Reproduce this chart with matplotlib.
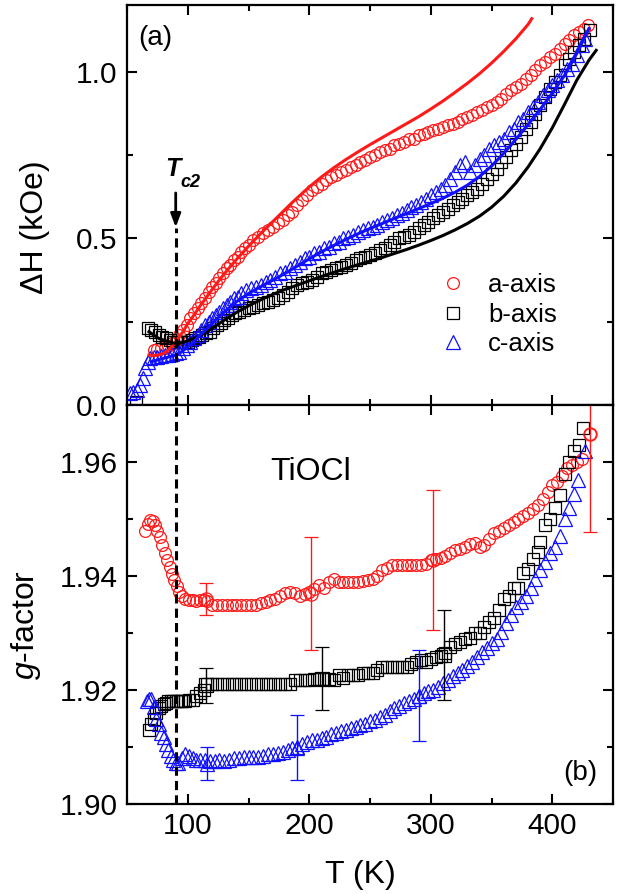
import numpy as np
import matplotlib
matplotlib.use('Agg')
import matplotlib.pyplot as plt
from matplotlib.ticker import MultipleLocator

plt.rcParams['font.family'] = ['Liberation Sans', 'DejaVu Sans']
plt.rcParams['mathtext.fontset'] = 'custom'
plt.rcParams['mathtext.rm'] = 'Liberation Sans'
plt.rcParams['mathtext.it'] = 'Liberation Sans:italic'

RED, BLK, BLU = '#ff1a1a', '#000000', '#1010ff'

# ---- (a) linewidth, symbols ----
Ta = [72, 75, 78, 81, 84, 87, 90, 93, 96, 99, 102, 105, 108, 111, 114, 117, 120, 123, 126, 129,
      132, 135, 138, 141, 144, 147, 150, 154, 158, 162, 166, 170, 174, 178, 182, 186, 190, 194, 198, 202,
      206, 210, 214, 218, 222, 226, 230, 234, 238, 242, 246, 250, 254, 258, 262, 266, 270, 274, 278, 282,
      286, 290, 294, 298, 302, 306, 310, 314, 318, 322, 326, 330, 334, 338, 342, 346, 350, 354, 358, 362,
      366, 370, 374, 378, 382, 386, 390, 394, 398, 402, 406, 410, 414, 418, 422, 426, 429]
dHa = [0.165, 0.168, 0.170, 0.172, 0.178, 0.185, 0.195, 0.21, 0.225, 0.24, 0.26, 0.275, 0.29, 0.305, 0.32, 0.34, 0.355, 0.365, 0.38, 0.395,
       0.41, 0.42, 0.435, 0.445, 0.46, 0.47, 0.48, 0.495, 0.505, 0.515, 0.525, 0.535, 0.545, 0.555, 0.57, 0.58, 0.60, 0.615, 0.63, 0.645,
       0.655, 0.665, 0.675, 0.685, 0.69, 0.70, 0.705, 0.715, 0.72, 0.73, 0.735, 0.745, 0.75, 0.76, 0.765, 0.77, 0.78, 0.785, 0.79, 0.80,
       0.80, 0.81, 0.815, 0.82, 0.825, 0.83, 0.835, 0.84, 0.845, 0.85, 0.86, 0.865, 0.87, 0.88, 0.885, 0.895, 0.90, 0.91, 0.92, 0.935,
       0.945, 0.955, 0.965, 0.98, 0.99, 1.005, 1.02, 1.03, 1.045, 1.055, 1.07, 1.085, 1.095, 1.11, 1.12, 1.13, 1.14]

Tb = [57, 67, 70, 73, 76, 79, 82, 85, 88, 91, 94, 97, 100, 103, 106, 109, 112, 115, 118, 121,
      124, 127, 130, 133, 136, 139, 142, 146, 150, 154, 158, 162, 166, 170, 174, 178, 182, 186, 190, 194,
      198, 202, 206, 210, 214, 218, 222, 226, 230, 234, 238, 242, 246, 250, 254, 258, 262, 266, 270, 274,
      278, 282, 286, 290, 294, 298, 302, 306, 310, 314, 318, 322, 326, 330, 334, 338, 342, 346, 350, 354,
      358, 362, 366, 370, 374, 378, 382, 386, 390, 394, 398, 402, 406, 410, 414, 418, 422, 426, 431]
dHb = [0.008, 0.23, 0.225, 0.22, 0.21, 0.205, 0.20, 0.195, 0.19, 0.19, 0.19, 0.19, 0.19, 0.195, 0.20, 0.205, 0.21, 0.215, 0.22, 0.23,
       0.24, 0.245, 0.255, 0.26, 0.27, 0.275, 0.28, 0.285, 0.29, 0.295, 0.30, 0.305, 0.31, 0.315, 0.32, 0.33, 0.34, 0.35, 0.36, 0.365,
       0.37, 0.375, 0.385, 0.395, 0.40, 0.405, 0.41, 0.415, 0.42, 0.425, 0.435, 0.44, 0.445, 0.45, 0.455, 0.465, 0.47, 0.48, 0.49, 0.50,
       0.505, 0.51, 0.52, 0.53, 0.54, 0.55, 0.56, 0.57, 0.58, 0.59, 0.60, 0.61, 0.62, 0.63, 0.64, 0.65, 0.665, 0.68, 0.695, 0.71,
       0.73, 0.745, 0.765, 0.785, 0.805, 0.83, 0.85, 0.875, 0.90, 0.925, 0.95, 0.97, 0.99, 1.02, 1.04, 1.06, 1.08, 1.10, 1.125]

Tc = [52, 55, 58, 61, 63, 65, 67, 69, 72, 75, 78, 81, 84, 87, 90, 93, 96, 99, 102, 105,
      108, 111, 114, 117, 120, 123, 126, 129, 132, 135, 138, 141, 144, 148, 152, 156, 160, 164, 168, 172,
      176, 180, 184, 188, 192, 196, 200, 204, 208, 212, 216, 220, 224, 228, 232, 236, 240, 244, 248, 252,
      256, 260, 264, 268, 272, 276, 280, 284, 288, 292, 296, 300, 304, 308, 312, 316, 320, 324, 328, 332,
      336, 340, 344, 348, 352, 356, 360, 364, 368, 372, 376, 380, 384, 388, 392, 396, 400, 404, 408, 412,
      416, 420, 424, 427]
dHc = [0.035, 0.04, 0.045, 0.06, 0.08, 0.11, 0.13, 0.14, 0.145, 0.145, 0.148, 0.15, 0.15, 0.152, 0.155, 0.16, 0.17, 0.18, 0.19, 0.20,
       0.21, 0.225, 0.24, 0.25, 0.26, 0.27, 0.28, 0.29, 0.30, 0.31, 0.32, 0.325, 0.335, 0.345, 0.35, 0.355, 0.36, 0.37, 0.375, 0.385,
       0.395, 0.40, 0.41, 0.42, 0.43, 0.44, 0.445, 0.455, 0.46, 0.47, 0.475, 0.485, 0.49, 0.50, 0.505, 0.51, 0.52, 0.525, 0.53, 0.535,
       0.54, 0.55, 0.555, 0.56, 0.57, 0.575, 0.585, 0.595, 0.60, 0.61, 0.62, 0.63, 0.64, 0.65, 0.66, 0.68, 0.70, 0.72, 0.73, 0.70,
       0.72, 0.74, 0.75, 0.77, 0.78, 0.79, 0.80, 0.82, 0.83, 0.85, 0.86, 0.88, 0.895, 0.91, 0.93, 0.945, 0.96, 0.975, 0.99, 1.01,
       1.025, 1.05, 1.08, 1.10]

# fit curves
Tfa = [68, 72, 76, 80, 84, 88, 92, 96, 100, 105, 110, 115, 120, 125, 130, 135, 140, 145, 150, 155,
       160, 165, 170, 175, 180, 185, 190, 200, 210, 220, 230, 240, 250, 260, 270, 280, 290, 300, 310, 320,
       330, 340, 350, 360, 370, 380, 383]
fa = [0.15, 0.148, 0.15, 0.155, 0.165, 0.18, 0.20, 0.22, 0.245, 0.27, 0.297, 0.322, 0.347, 0.371, 0.394, 0.416, 0.437, 0.457, 0.477, 0.496,
      0.515, 0.533, 0.551, 0.569, 0.587, 0.605, 0.622, 0.655, 0.685, 0.712, 0.737, 0.76, 0.782, 0.803, 0.824, 0.845, 0.866, 0.889, 0.913, 0.939,
      0.966, 0.995, 1.027, 1.062, 1.10, 1.143, 1.16]
Tfb = [68, 72, 76, 80, 84, 88, 92, 96, 100, 105, 110, 115, 120, 130, 140, 150, 160, 170, 180, 190,
       200, 210, 220, 230, 240, 250, 260, 270, 280, 290, 300, 310, 320, 330, 340, 350, 360, 370, 380, 390,
       400, 410, 420, 430, 436]
fb = [0.22, 0.21, 0.20, 0.195, 0.19, 0.186, 0.185, 0.188, 0.193, 0.20, 0.208, 0.218, 0.23, 0.255, 0.278, 0.298, 0.316, 0.332, 0.347, 0.36,
      0.373, 0.386, 0.398, 0.41, 0.421, 0.432, 0.443, 0.455, 0.467, 0.48, 0.494, 0.509, 0.526, 0.545, 0.567, 0.594, 0.627, 0.667, 0.715, 0.77,
      0.833, 0.903, 0.975, 1.035, 1.065]
Tfc = [70, 75, 80, 85, 90, 95, 100, 105, 110, 120, 130, 140, 150, 160, 170, 180, 190, 200, 210, 220,
       230, 240, 250, 260, 270, 280, 290, 300, 310, 320, 330, 340, 350, 360, 370, 380, 390, 400, 410, 420, 430]
fc = [0.13, 0.135, 0.14, 0.145, 0.15, 0.16, 0.175, 0.19, 0.21, 0.245, 0.28, 0.31, 0.335, 0.355, 0.375, 0.395, 0.417, 0.439, 0.46, 0.479,
      0.497, 0.514, 0.53, 0.545, 0.56, 0.575, 0.59, 0.605, 0.621, 0.639, 0.66, 0.686, 0.718, 0.756, 0.798, 0.842, 0.888, 0.937, 0.99, 1.055, 1.13]

# ---- (b) g-factor ----
gTa = [65, 67, 69, 71, 73, 75, 77, 79, 81, 83, 85, 87, 89, 91, 93, 95, 98, 101, 104, 107,
       110, 113, 116, 120, 124, 128, 132, 136, 140, 144, 148, 152, 156, 160, 164, 168, 172, 176, 180, 184,
       188, 192, 196, 200, 204, 208, 212, 216, 220, 224, 228, 232, 236, 240, 244, 248, 252, 256, 260, 264,
       268, 272, 276, 280, 284, 288, 292, 296, 300, 304, 308, 312, 316, 320, 324, 328, 332, 336, 340, 344,
       348, 352, 356, 360, 364, 368, 372, 376, 380, 384, 388, 392, 396, 400, 404, 408, 412, 416, 420, 424, 431]
ga = [1.9480, 1.9492, 1.9498, 1.9497, 1.9490, 1.9480, 1.9468, 1.9455, 1.9440, 1.9428, 1.9416, 1.9404, 1.9393, 1.9382, 1.9372, 1.9365, 1.9360, 1.9358, 1.9358, 1.9357,
      1.9358, 1.9358, 1.9356, 1.9350, 1.9350, 1.9350, 1.9350, 1.9350, 1.9350, 1.9350, 1.9350, 1.9350, 1.9350, 1.9352, 1.9355, 1.9358, 1.9360, 1.9365, 1.9370, 1.9372,
      1.9370, 1.9365, 1.9368, 1.9372, 1.9378, 1.9385, 1.9380, 1.9390, 1.9395, 1.9390, 1.9390, 1.9390, 1.9390, 1.9390, 1.9392, 1.9393, 1.9395, 1.9400, 1.9410, 1.9415,
      1.9420, 1.9420, 1.9420, 1.9420, 1.9420, 1.9420, 1.9420, 1.9422, 1.9428, 1.9430, 1.9432, 1.9435, 1.9440, 1.9445, 1.9448, 1.9452, 1.9456, 1.9458, 1.9452, 1.9455,
      1.9465, 1.9475, 1.9480, 1.9485, 1.9490, 1.9495, 1.9500, 1.9505, 1.9510, 1.9518, 1.9525, 1.9535, 1.9548, 1.9560, 1.9565, 1.9575, 1.9590, 1.9595, 1.9600, 1.9605, 1.9650]

gTb = [68, 70, 72, 74, 76, 78, 80, 82, 84, 86, 88, 90, 92, 94, 96, 98, 101, 104, 107, 110,
       113, 116, 120, 124, 128, 132, 136, 140, 144, 148, 152, 156, 160, 164, 168, 172, 176, 180, 184, 188,
       192, 196, 200, 204, 208, 212, 216, 220, 224, 228, 232, 236, 240, 244, 248, 252, 256, 260, 264, 268,
       272, 276, 280, 284, 288, 292, 296, 300, 304, 308, 312, 316, 320, 324, 328, 332, 336, 340, 344, 348,
       352, 356, 360, 364, 368, 372, 376, 380, 384, 388, 390, 394, 398, 402, 406, 410, 414, 418, 422, 425]
gb = [1.9130, 1.9140, 1.9150, 1.9160, 1.9168, 1.9172, 1.9175, 1.9178, 1.9180, 1.9180, 1.9180, 1.9180, 1.9180, 1.9180, 1.9180, 1.9180, 1.9182, 1.9183, 1.9190, 1.9195,
      1.9200, 1.9210, 1.9210, 1.9210, 1.9210, 1.9210, 1.9210, 1.9210, 1.9210, 1.9210, 1.9210, 1.9210, 1.9210, 1.9210, 1.9210, 1.9210, 1.9210, 1.9210, 1.9210, 1.9218,
      1.9218, 1.9218, 1.9218, 1.9220, 1.9220, 1.9220, 1.9220, 1.9218, 1.9226, 1.9222, 1.9226, 1.9226, 1.9226, 1.9230, 1.9230, 1.9230, 1.9236, 1.9240, 1.9240, 1.9240,
      1.9240, 1.9240, 1.9240, 1.9245, 1.9250, 1.9253, 1.9250, 1.9255, 1.9258, 1.9260, 1.9265, 1.9276, 1.9280, 1.9285, 1.9290, 1.9292, 1.9300, 1.9300, 1.9310, 1.9320,
      1.9326, 1.9340, 1.9360, 1.9365, 1.9379, 1.9380, 1.9405, 1.9412, 1.9430, 1.9442, 1.9460, 1.9490, 1.9500, 1.9520, 1.9542, 1.9580, 1.9600, 1.9620, 1.9630, 1.9660]

gTc = [66, 68, 70, 72, 74, 76, 78, 80, 82, 84, 86, 88, 90, 92, 95, 98, 101, 104, 107, 110,
       114, 118, 122, 126, 130, 134, 138, 142, 146, 150, 154, 158, 162, 166, 170, 174, 178, 182, 186, 190,
       194, 198, 202, 206, 210, 214, 218, 222, 226, 230, 234, 238, 242, 246, 250, 254, 258, 262, 266, 270,
       274, 278, 282, 286, 290, 294, 298, 302, 306, 310, 314, 318, 322, 326, 330, 334, 338, 342, 346, 350,
       354, 358, 362, 366, 370, 374, 378, 382, 386, 390, 394, 398, 402, 406, 410, 414, 418, 421, 427]
gc = [1.9180, 1.9184, 1.9185, 1.9170, 1.9150, 1.9140, 1.9125, 1.9118, 1.9105, 1.9095, 1.9085, 1.9078, 1.9072, 1.9072, 1.9080, 1.9088, 1.9085, 1.9080, 1.9078, 1.9078,
      1.9078, 1.9075, 1.9075, 1.9077, 1.9075, 1.9078, 1.9080, 1.9080, 1.9082, 1.9083, 1.9083, 1.9083, 1.9085, 1.9087, 1.9088, 1.9090, 1.9092, 1.9095, 1.9098, 1.9100,
      1.9105, 1.9108, 1.9112, 1.9113, 1.9115, 1.9118, 1.9122, 1.9124, 1.9128, 1.9130, 1.9133, 1.9136, 1.9138, 1.9141, 1.9145, 1.9148, 1.9152, 1.9157, 1.9163, 1.9168,
      1.9172, 1.9177, 1.9180, 1.9185, 1.9190, 1.9195, 1.9198, 1.9200, 1.9205, 1.9212, 1.9218, 1.9224, 1.9230, 1.9236, 1.9243, 1.9250, 1.9258, 1.9266, 1.9273, 1.9282,
      1.9290, 1.9302, 1.9318, 1.9332, 1.9345, 1.9355, 1.9365, 1.9380, 1.9395, 1.9410, 1.9425, 1.9440, 1.9452, 1.9470, 1.9500, 1.9520, 1.9545, 1.9568, 1.9620]

# error bars: T, g, half-width
errTa, errga, erra = [115, 201, 302, 431], [1.9360, 1.9369, 1.9428, 1.9650], [0.0028, 0.0099, 0.0123, 0.0173]
errTb, errgb, errb = [115, 210, 311], [1.9208, 1.9220, 1.9261], [0.0031, 0.0055, 0.0079]
errTc, errgc, errc = [116, 190, 290], [1.9071, 1.9099, 1.9190], [0.0029, 0.0057, 0.0080]

TC2 = 90

fig = plt.figure(figsize=(6.2, 8.94), dpi=100)
ax1 = fig.add_axes([0.205, 0.547, 0.784, 0.447])
ax2 = fig.add_axes([0.205, 0.1007, 0.784, 0.446], sharex=ax1)

mk = dict(ls='none', mfc='none', mew=0.9)
ax1.plot(Ta, dHa, marker='o', ms=8.5, mec=RED, label='a-axis', **mk)
ax1.plot(Tb, dHb, marker='s', ms=8, mec=BLK, label='b-axis', **mk)
ax1.plot(Tc, dHc, marker='^', ms=9.5, mec=BLU, label='c-axis', **mk)
ax1.plot(Tfa, fa, color=RED, lw=2.2)
ax1.plot(Tfb, fb, color=BLK, lw=2.2)
ax1.plot(Tfc, fc, color=BLU, lw=2.2)

ax2.plot(gTa, ga, marker='o', ms=8.5, mec=RED, **mk)
ax2.plot(gTb, gb, marker='s', ms=8, mec=BLK, **mk)
ax2.plot(gTc, gc, marker='^', ms=9.5, mec=BLU, **mk)
eb = dict(ms=9.5, mfc='none', elinewidth=1.0, capsize=5, capthick=1.0, mew=0.9)
ax2.errorbar(errTa, errga, yerr=erra, fmt='o', color=RED, **eb)
ax2.errorbar(errTb, errgb, yerr=errb, fmt='s', color=BLK, **eb)
ax2.errorbar(errTc, errgc, yerr=errc, fmt='^', color=BLU, **eb)

# T_c2 marker
dash = (0, (3, 1.7))
ax1.plot([TC2, TC2], [0, 0.53], color='k', lw=2.2, ls=dash)
ax2.axvline(TC2, color='k', lw=2.2, ls=dash)
ax1.annotate('', xy=(TC2, 0.525), xytext=(TC2, 0.645),
             arrowprops=dict(arrowstyle='-|>,head_length=0.8,head_width=0.3', color='k', lw=2.0))
ax1.text(81, 0.687, 'T', fontsize=18, fontweight='bold', fontstyle='italic', va='baseline')
ax1.text(94.2, 0.654, 'c2', fontsize=13, fontweight='bold', fontstyle='italic', va='baseline')

ax1.set_xlim(50, 450)
ax1.set_ylim(0, 1.2)
ax2.set_ylim(1.90, 1.97)

for ax in (ax1, ax2):
    ax.xaxis.set_major_locator(MultipleLocator(100))
    ax.xaxis.set_minor_locator(MultipleLocator(50))
    ax.tick_params(which='both', direction='in', top=True, right=True, width=1.5)
    ax.tick_params(which='major', length=7, labelsize=21.5)
    ax.tick_params(which='minor', length=4)
    ax.tick_params(axis='x', pad=6)
    ax.tick_params(axis='y', pad=7)
    for s in ax.spines.values():
        s.set_linewidth(1.6)
ax1.yaxis.set_major_locator(MultipleLocator(0.5))
ax1.yaxis.set_minor_locator(MultipleLocator(0.25))
ax1.yaxis.set_major_formatter(matplotlib.ticker.FormatStrFormatter('%.1f'))
ax2.yaxis.set_major_locator(MultipleLocator(0.02))
ax2.yaxis.set_minor_locator(MultipleLocator(0.01))
ax2.yaxis.set_major_formatter(matplotlib.ticker.FormatStrFormatter('%.2f'))
ax1.tick_params(axis='x', labelbottom=False)

ax1.set_ylabel('ΔH (kOe)', fontsize=23)
ax1.yaxis.set_label_coords(-0.158, 0.445)
ax2.set_ylabel('$g$-factor', fontsize=23)
ax2.yaxis.set_label_coords(-0.172, 0.449)
ax2.set_xlabel('T (K)', fontsize=23)
ax2.xaxis.set_label_coords(0.479, -0.14)

ax1.text(0.023, 0.918, '(a)', transform=ax1.transAxes, fontsize=20, va='center', ha='left')
ax2.text(0.967, 0.078, '(b)', transform=ax2.transAxes, fontsize=20, va='center', ha='right')
ax2.text(0.294, 0.812, 'TiOCl', transform=ax2.transAxes, fontsize=23, va='baseline', ha='left')

ax1.legend(loc='upper left', bbox_to_anchor=(0.645, 0.33), frameon=False, fontsize=18.5,
           handlelength=1.0, handletextpad=0.85, labelspacing=0.22, borderpad=0, borderaxespad=0,
           numpoints=1)

fig.savefig('out.png', dpi=100)
